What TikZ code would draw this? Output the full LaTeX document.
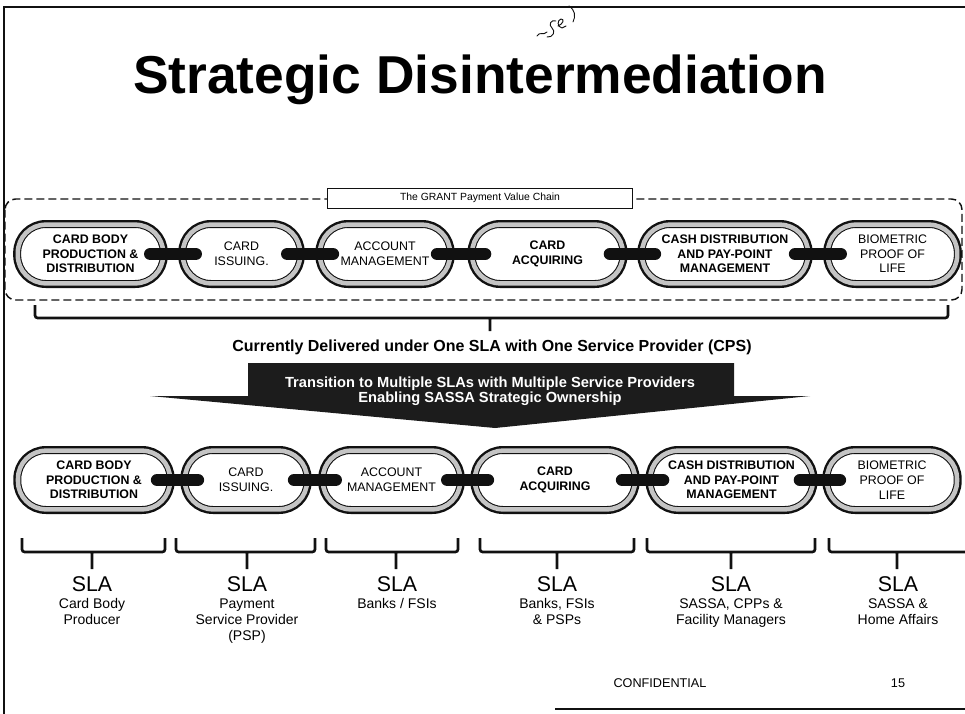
\documentclass[tikz,border=0pt]{standalone}
\usepackage{fontspec}
\setmainfont{Liberation Sans}
\usetikzlibrary{positioning}
\definecolor{slink}{HTML}{111111}
\definecolor{sband}{HTML}{C4C4C4}
\definecolor{sarrow}{HTML}{1C1C1C}
\tikzset{
  link/.style    ={draw=slink,line width=0.8pt,double=sband,double distance=3.4pt,preaction={draw=slink,line width=7pt},fill=white,rounded corners=21pt,minimum height=44pt,align=center,inner sep=2pt,font=\fontsize{9.3}{11}\selectfont},
  boldlink/.style={link,font=\fontsize{9.3}{11}\selectfont\bfseries},
  bar/.style     ={draw=slink,line width=9.5pt,line cap=round},
  brace/.style   ={draw=slink,line width=2pt,rounded corners=2pt},
  chainbox/.style={draw=slink,line width=1.1pt,dash pattern=on 6pt off 3pt,rounded corners=8pt},
  chainlabel/.style={draw=slink,fill=white,line width=0.6pt,minimum width=229pt,minimum height=15pt,font=\fontsize{7.8}{9}\selectfont},
  banner/.style  ={text=white,align=center,font=\fontsize{11}{11.5}\selectfont\bfseries},
  sla/.style     ={font=\fontsize{16}{18}\selectfont,inner sep=0pt},
  who/.style     ={font=\fontsize{10.5}{12}\selectfont,align=center,inner sep=0pt},
  pen/.style     ={draw=slink,line width=0.7pt,line cap=round,line join=round},
}
\begin{document}
\begin{tikzpicture}[x=0.75pt,y=-0.75pt]
  \useasboundingbox (0,0) rectangle (965,714);
  % slide frame
  \draw[slink,line width=1pt] (4,714) -- (4,7) -- (965,7);
  \draw[slink,line width=1pt] (555,709) -- (965,709);
  % pen mark next to the title
  \draw[pen] (537,36) .. controls (540,31) and (543,36) .. (547,32);
  \draw[pen] (556,21) .. controls (551,19) and (548,25) .. (552,28)
             .. controls (556,31) and (553,38) .. (547,37);
  \draw[pen] (558,26) .. controls (563,24) and (565,19) .. (561,19)
             .. controls (557,20) and (557,27) .. (562,28) -- (566,26);
  \draw[pen] (569,6) .. controls (575,10) and (576,16) .. (573,22);

  \node[font=\fontsize{40}{42}\selectfont\bfseries] (title) at (480,80) {Strategic Disintermediation};

  % one provider: the whole chain
  \draw[chainbox] (5,199) rectangle (962,300);
  \node[chainlabel] (vc) at (480,198) {The GRANT Payment Value Chain};

  \node[boldlink,minimum width=109pt]   (t1) at (90.5,254)  {CARD BODY\\PRODUCTION \&\\DISTRIBUTION};
  \node[link,minimum width=88pt]        (t2) at (241.5,254) {CARD\\ISSUING.};
  \node[link,minimum width=97.5pt]      (t3) at (385,254)   {ACCOUNT\\MANAGEMENT};
  \node[boldlink,minimum width=113pt]   (t4) at (547.5,254) {CARD\\ACQUIRING};
  \node[boldlink,minimum width=124.5pt] (t5) at (725,254)   {CASH DISTRIBUTION\\AND PAY-POINT\\MANAGEMENT};
  \node[link,minimum width=97pt]        (t6) at (892.5,254) {BIOMETRIC\\PROOF OF\\LIFE};

  \draw[brace] (35,305) |- (948,318) -- (948,305) (490,318) -- (490,331);
  \node[font=\fontsize{12}{14}\selectfont\bfseries] (cps) at (492,347)
    {Currently Delivered under One SLA with One Service Provider (CPS)};

  % transition arrow
  \fill[sarrow] (248,363) -- (734,363) -- (734,396) -- (810,396) -- (495,428) -- (150,396) -- (248,396) -- cycle;
  \node[banner] (move) at (490,391) {Transition to Multiple SLAs with Multiple Service Providers\\Enabling SASSA Strategic Ownership};

  % many providers: one SLA per link
  \node[boldlink,minimum width=114pt] (b1) at (94,480)    {CARD BODY\\PRODUCTION \&\\DISTRIBUTION};
  \node[link,minimum width=91.5pt]    (b2) at (246,480)   {CARD\\ISSUING.};
  \node[link,minimum width=103pt]     (b3) at (391.5,480) {ACCOUNT\\MANAGEMENT};
  \node[boldlink,minimum width=120pt] (b4) at (555,480)   {CARD\\ACQUIRING};
  \node[boldlink,minimum width=122pt] (b5) at (731.5,480) {CASH DISTRIBUTION\\AND PAY-POINT\\MANAGEMENT};
  \node[link,minimum width=97.5pt]    (b6) at (892,480)   {BIOMETRIC\\PROOF OF\\LIFE};

  \foreach \a/\b in {t1/t2,t2/t3,t3/t4,t4/t5,t5/t6,b1/b2,b2/b3,b3/b4,b4/b5,b5/b6}
    \draw[bar] ([xshift=-10pt]\a.east) -- ([xshift=10pt]\b.west);

  \foreach \l/\r/\m in {22/165/92,176/315/247,326/458/396,480/634/557,647/815/731,829/975/897}
    \draw[brace] (\l,538) |- (\r,552) -- (\r,538) (\m,552) -- (\m,569);

  \node[sla] (s1) at (92,584)  {SLA};
  \node[sla] (s2) at (247,584) {SLA};
  \node[sla] (s3) at (397,584) {SLA};
  \node[sla] (s4) at (557,584) {SLA};
  \node[sla] (s5) at (731,584) {SLA};
  \node[sla] (s6) at (898,584) {SLA};

  \node[who,below=5pt of s1] (w1) {Card Body\\Producer};
  \node[who,below=5pt of s2] (w2) {Payment\\Service Provider\\(PSP)};
  \node[who,below=5pt of s3] (w3) {Banks / FSIs};
  \node[who,below=5pt of s4] (w4) {Banks, FSIs\\\& PSPs};
  \node[who,below=5pt of s5] (w5) {SASSA, CPPs \&\\Facility Managers};
  \node[who,below=5pt of s6] (w6) {SASSA \&\\Home Affairs};

  \node[font=\fontsize{9.5}{10}\selectfont] (conf) at (660,683) {CONFIDENTIAL};
  \node[font=\fontsize{9.5}{10}\selectfont] (page) at (898,683) {15};
\end{tikzpicture}
\end{document}
